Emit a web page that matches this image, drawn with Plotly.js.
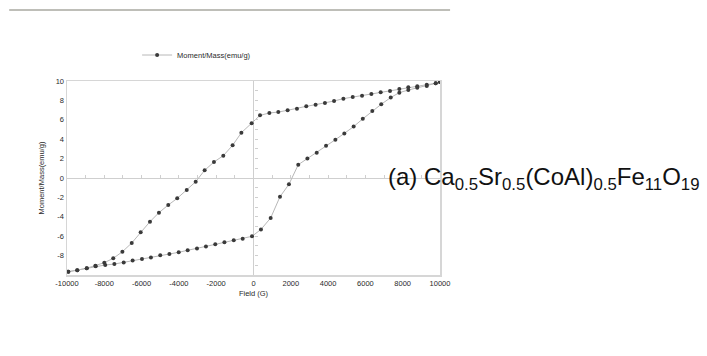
<!DOCTYPE html>
<html><head><meta charset="utf-8">
<script src="https://cdn.plot.ly/plotly-3.0.1.min.js"></script>
<style>body{margin:0;background:#fff}#c{width:707px;height:356px}</style>
</head><body><div id="c"></div>
<script>
// Ascending branch (lower curve), field in G, moment in emu/g
var fieldUp = [-9930,-9450,-8940,-8460,-7950,-7460,-6960,-6480,-5980,-5500,-5000,-4510,-4010,-3530,-3030,-2550,-2050,-1560,-1060,-580,-80,400,920,1420,1900,2400,2890,3390,3890,4390,4870,5370,5860,6370,6850,7360,7820,8300,8780,9290,9770,10000];
var momentUp = [-9.66,-9.5,-9.3,-9.1,-8.97,-8.87,-8.7,-8.5,-8.35,-8.2,-7.97,-7.84,-7.66,-7.45,-7.28,-7.05,-6.84,-6.63,-6.42,-6.26,-6.01,-5.3,-4.12,-1.93,-0.65,1.37,2.0,2.6,3.33,3.95,4.6,5.3,6.1,6.9,7.6,8.3,8.8,9.07,9.3,9.48,9.76,9.9];
// Descending branch (upper curve)
var fieldDown = [10000,9770,9290,8780,8300,7820,7320,6820,6320,5820,5320,4820,4320,3830,3330,2830,2330,1830,1330,850,350,-100,-650,-1120,-1620,-2120,-2620,-3100,-3580,-4090,-4570,-5070,-5550,-6050,-6530,-7030,-7520,-8000,-8480,-8940,-9450,-9930];
var momentDown = [9.9,9.76,9.62,9.45,9.35,9.18,8.97,8.84,8.66,8.48,8.35,8.18,7.94,7.73,7.56,7.39,7.15,6.98,6.8,6.7,6.46,5.64,4.67,3.37,2.3,1.65,0.79,-0.38,-1.24,-2.1,-2.78,-3.57,-4.5,-5.6,-6.7,-7.6,-8.28,-8.73,-9.04,-9.3,-9.5,-9.66];
var xTicks = [-10000,-8000,-6000,-4000,-2000,0,2000,4000,6000,8000,10000];
var yTicks = [-8,-6,-4,-2,0,2,4,6,8,10];
var seriesName = 'Moment/Mass(emu/g)';

var mk = {symbol:'circle', size:4, color:'#3a3a3a'};
var ln = {color:'#b8b8b8', width:1};
var traces = [
  {x: fieldDown.concat(fieldUp), y: momentDown.concat(momentUp), mode:'lines+markers', name: seriesName, marker: mk, line: ln, showlegend:true},
  {x:[null], y:[null], xaxis:'x2', yaxis:'y2', showlegend:false, hoverinfo:'skip'}
];
var tf = {family:'Liberation Sans, Arial, sans-serif', size:7.5, color:'#2a2a2a'};
var layout = {
  width:707, height:356,
  margin:{l:67, r:267, t:81, b:81},
  paper_bgcolor:'#fff', plot_bgcolor:'#fff',
  showlegend:true,
  legend:{x:0.188, y:1.134, xanchor:'left', yanchor:'middle', font:{family:'Liberation Sans, Arial, sans-serif', size:7.5, color:'#2a2a2a'}, bgcolor:'rgba(0,0,0,0)', itemwidth:30},
  xaxis:{range:[-10000,10000], tickvals:xTicks, ticktext:xTicks.map(String), tickfont:tf, ticks:'', showgrid:false,
    zeroline:true, zerolinecolor:'#cfcfcf', zerolinewidth:1, showline:true, mirror:true, linecolor:'#d6d6d6', linewidth:1.5,
    title:{text:'Field (G)', font:tf, standoff:4}, automargin:false},
  yaxis:{range:[-10,10], tickvals:yTicks, ticktext:yTicks.map(String), tickfont:tf, ticks:'', showgrid:false,
    zeroline:true, zerolinecolor:'#cfcfcf', zerolinewidth:1, showline:true, mirror:true, linecolor:'#d6d6d6', linewidth:1.5,
    title:{text:'Moment/Mass(emu/g)', font:tf, standoff:10}, automargin:false},
  // minor ticks along the zero lines
  xaxis2:{overlaying:'x', anchor:'free', position:0.5, range:[-10000,10000], dtick:1000, ticks:'inside', ticklen:3, tickcolor:'#cfcfcf', showticklabels:false, showgrid:false, zeroline:false, showline:false},
  yaxis2:{overlaying:'y', anchor:'free', position:0.5, range:[-10,10], dtick:1, ticks:'inside', ticklen:3, tickcolor:'#cfcfcf', showticklabels:false, showgrid:false, zeroline:false, showline:false},
  shapes:[{type:'line', xref:'paper', yref:'paper', x0:-0.155, x1:1.027, y0:1.366, y1:1.366, line:{color:'#a8a8a0', width:1.5}}],
  annotations:[{xref:'paper', yref:'y', x:0.856, y:-0.1, xanchor:'left', yanchor:'middle', showarrow:false,
    text:'(a) Ca<sub>0.5</sub>Sr<sub>0.5</sub>(CoAl)<sub>0.5</sub>Fe<sub>11</sub>O<sub>19</sub>',
    font:{family:'Liberation Sans, Arial, sans-serif', size:24, color:'#111'}}]
};
Plotly.newPlot('c', traces, layout, {displayModeBar:false, staticPlot:true});
</script></body></html>
